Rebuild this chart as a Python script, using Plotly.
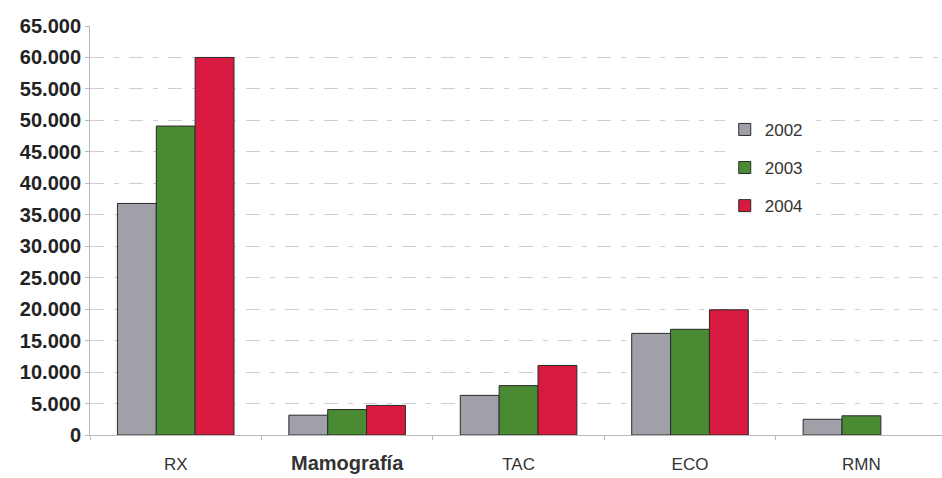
import plotly.graph_objects as go

# Diagnostic imaging studies per year, by modality
categories = ["RX", "Mamografía", "TAC", "ECO", "RMN"]
category_labels = ["RX", "<span style='font-size:20px'><b>Mamografía</b></span>", "TAC", "ECO", "RMN"]
years = ["2002", "2003", "2004"]
values_2002 = [36800, 3150, 6300, 16150, 2500]
values_2003 = [49100, 4050, 7850, 16800, 3050]
values_2004 = [60000, 4700, 11050, 19900, None]
y_ticks = list(range(0, 65001, 5000))

series = [values_2002, values_2003, values_2004]
colors = ["#a0a1a8", "#4a8a32", "#d81a40"]

fig = go.Figure()
for year, vals, col in zip(years, series, colors):
    fig.add_trace(go.Bar(
        x=categories, y=vals, name=year, legendgroup=year,
        marker=dict(color=col, line=dict(color="#2a2a2a", width=1)),
    ))

fig.update_layout(
    width=942, height=478,
    margin=dict(l=90, r=0, t=26, b=43),
    paper_bgcolor="white", plot_bgcolor="white",
    separators=",.",
    barmode="group", bargap=0.32, bargroupgap=0,
    font=dict(family="Liberation Sans, Arial, sans-serif", color="#222222"),
    showlegend=True,
    legend=dict(
        x=0.745, y=0.79, xanchor="left", yanchor="top",
        bgcolor="white", borderwidth=0,
        font=dict(size=17, color="#333333"),
        traceorder="grouped", tracegroupgap=13,
    ),
    xaxis=dict(
        type="category", range=[-0.5, 4.47],
        tickmode="array", tickvals=categories, ticktext=category_labels,
        tickfont=dict(size=17, color="#333333"),
        ticklabelstandoff=14,
        showline=True, linecolor="#b8b8b8", linewidth=1,
        ticks="outside", tickson="boundaries", ticklen=4, tickcolor="#b8b8b8",
        showgrid=False,
    ),
    yaxis=dict(
        range=[0, 65000], tickvals=y_ticks, tickformat=",.0f",
        tickfont=dict(size=20, color="#222222", weight="bold"),
        showline=True, linecolor="#b8b8b8", linewidth=1,
        ticks="outside", ticklen=4, tickcolor="#b8b8b8",
        showgrid=True, gridcolor="#cdced6", gridwidth=1,
        griddash="14px,10px,5px,10px",
        zeroline=False,
    ),
)

fig.write_html("out.html")
